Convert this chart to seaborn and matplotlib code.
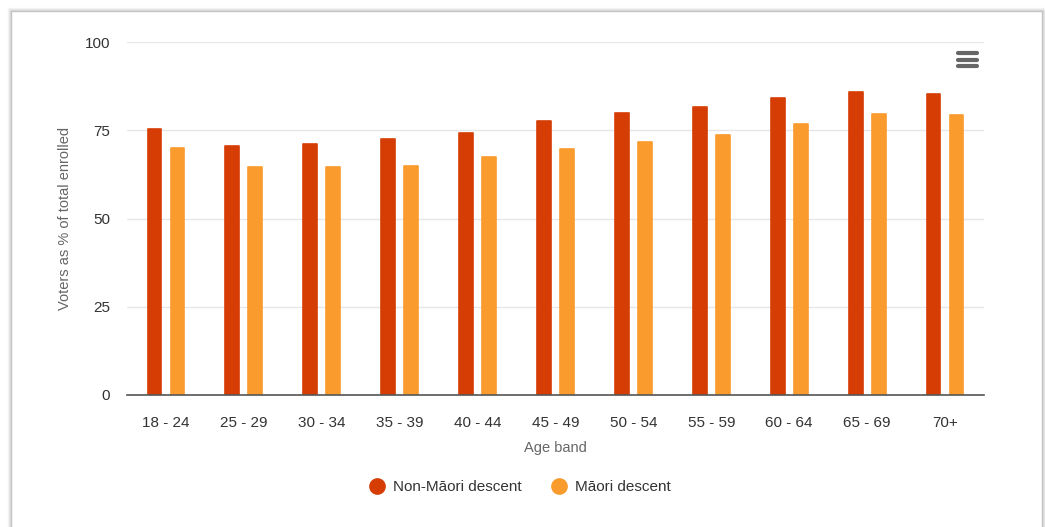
import matplotlib
matplotlib.use("Agg")
import matplotlib.pyplot as plt
from matplotlib.patches import Rectangle
from matplotlib.lines import Line2D
import seaborn as sns
import pandas as pd

# Turnout by age band, split by descent
age_bands = ["18 - 24", "25 - 29", "30 - 34", "35 - 39", "40 - 44", "45 - 49",
             "50 - 54", "55 - 59", "60 - 64", "65 - 69", "70+"]
non_maori = [75.4, 70.5, 71.2, 72.6, 74.3, 77.5, 79.9, 81.7, 84.1, 85.9, 85.2]
maori = [70.1, 64.5, 64.5, 64.9, 67.4, 69.8, 71.6, 73.7, 76.8, 79.6, 79.2]
series_names = ["Non-Māori descent", "Māori descent"]
series_colors = ["#d63d04", "#f99b2d"]
y_ticks = [0, 25, 50, 75, 100]

df = pd.DataFrame({
    "Age band": age_bands * 2,
    "value": non_maori + maori,
    "series": [series_names[0]] * len(age_bands) + [series_names[1]] * len(age_bands),
})

sns.set_theme(style="white")
plt.rcParams["font.family"] = ["Liberation Sans", "DejaVu Sans"]

W, H = 1045, 527
fig = plt.figure(figsize=(W / 100, H / 100), dpi=100)
fig.patch.set_facecolor("white")

# Card frame with a soft shadow
for i, a in enumerate([0.12, 0.07, 0.03]):
    fig.patches.append(Rectangle(((10 - i) / W, -30 / H), (1033 + 2 * i) / W, (H - 10 + i + 30) / H,
                                 transform=fig.transFigure, fill=False,
                                 edgecolor="black", alpha=a, lw=1.0, zorder=-3))
fig.patches.append(Rectangle((11 / W, -30 / H), 1031 / W, (H - 11 + 30) / H,
                             transform=fig.transFigure, facecolor="white",
                             edgecolor="#c4c4c4", lw=1.0, zorder=-2))

ax = fig.add_axes([127 / W, 1 - 395 / H, (984 - 127) / W, (395 - 42) / H])
ax.set_facecolor("none")

sns.barplot(data=df, x="Age band", y="value", hue="series",
            hue_order=series_names, palette=dict(zip(series_names, series_colors)),
            width=0.59, gap=0.40, ax=ax, legend=False, saturation=1)

for p in ax.patches:
    p.set_edgecolor(p.get_facecolor())
    p.set_linewidth(1.2)
    p.set_joinstyle("round")

ax.set_ylim(0, 100)
ax.set_xlim(-0.5, len(age_bands) - 0.5)
ax.set_yticks(y_ticks)
ax.set_yticklabels([str(t) for t in y_ticks])
ax.yaxis.grid(True, color="#e6e6e6", lw=1)
ax.set_axisbelow(True)
for s in ["top", "right", "left"]:
    ax.spines[s].set_visible(False)
ax.spines["bottom"].set_color("#555555")
ax.spines["bottom"].set_linewidth(1.2)
ax.tick_params(axis="both", length=0, labelsize=11, colors="#333333")
ax.tick_params(axis="y", pad=12)
ax.tick_params(axis="x", pad=15)
ax.set_xlabel("Age band", fontsize=10.5, color="#666666", labelpad=8)
ax.set_ylabel("Voters as % of total enrolled", fontsize=10.5, color="#666666", labelpad=9)

# Export menu icon
fig.patches.append(Rectangle((948 / W, 1 - 72 / H), 38 / W, 28 / H,
                             transform=fig.transFigure, facecolor="white",
                             edgecolor="none", zorder=3))
for yy in [53, 59.5, 66]:
    fig.lines.append(Line2D([958 / W, 977 / W], [1 - yy / H, 1 - yy / H],
                            transform=fig.transFigure, color="#666666", lw=3,
                            solid_capstyle="round", zorder=4))

handles = [Line2D([], [], marker="o", linestyle="none", markersize=11,
                  markerfacecolor=c, markeredgecolor=c) for c in series_colors]
fig.legend(handles, series_names, loc="center",
           bbox_to_anchor=(520 / W, 1 - 487 / H), ncol=2, frameon=False,
           fontsize=11, labelcolor="#333333", handletextpad=0.5,
           columnspacing=2.0, handlelength=1.0)

fig.savefig("out.png", dpi=100, facecolor="white")
